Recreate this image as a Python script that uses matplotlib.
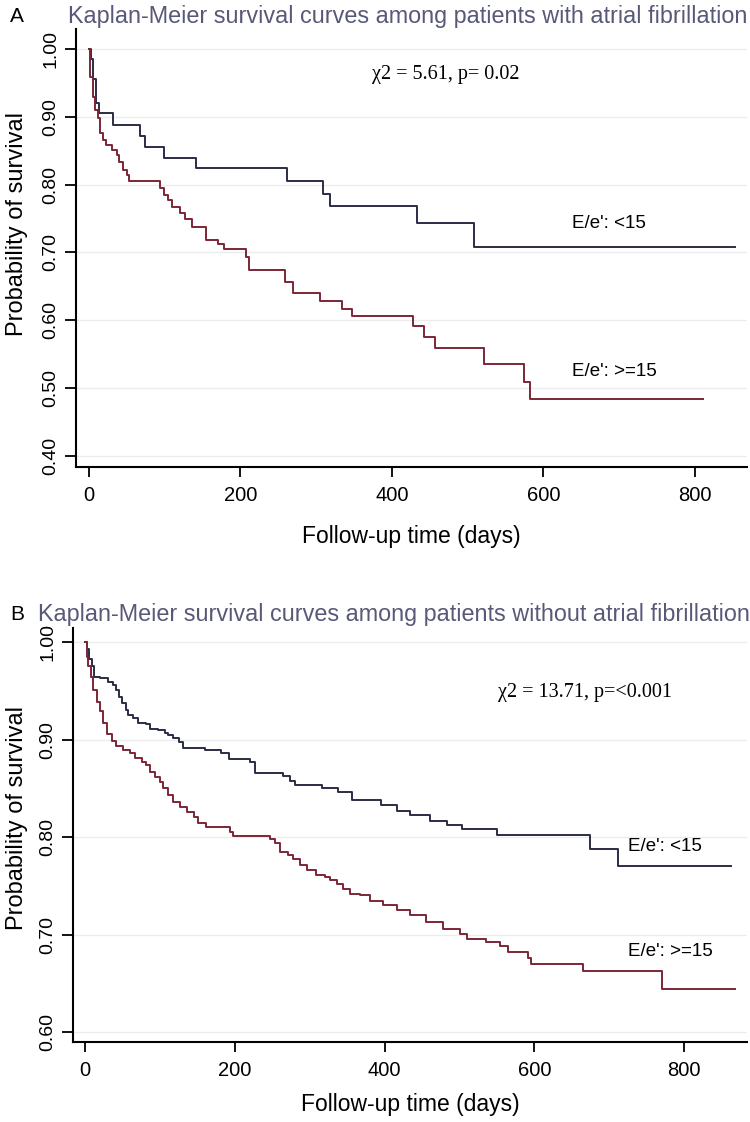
import matplotlib
matplotlib.use("Agg")
import matplotlib.pyplot as plt
from matplotlib import font_manager

# panel A: patients with atrial fibrillation
a_low_t = [0, 3, 6, 10, 13, 32, 67, 74, 99, 141, 262, 309, 319, 433, 509, 853]
a_low_s = [1.0, 0.985, 0.955, 0.92, 0.905, 0.888, 0.872, 0.855, 0.840, 0.824,
           0.805, 0.786, 0.769, 0.743, 0.708, 0.708]
a_high_t = [0, 1.3, 5.7, 8, 11.5, 14.5, 19, 23, 30, 36.6, 40, 44.5, 50, 53, 94,
            99, 105, 110, 120, 127, 136, 155, 171, 178, 208, 212, 259, 270, 305,
            334, 347, 428, 443, 457, 522, 574, 582, 811]
a_high_s = [1.0, 0.959, 0.929, 0.910, 0.898, 0.876, 0.866, 0.858, 0.851, 0.844,
            0.834, 0.822, 0.814, 0.805, 0.795, 0.785, 0.777, 0.767, 0.758, 0.750,
            0.737, 0.719, 0.712, 0.705, 0.694, 0.674, 0.657, 0.640, 0.628, 0.616,
            0.607, 0.592, 0.576, 0.559, 0.535, 0.509, 0.484, 0.484]

# panel B: patients without atrial fibrillation
b_low_t = [0, 3.1, 5.7, 8.9, 12.4, 20, 31, 38, 42, 46, 49, 55, 58, 64.5, 71, 82,
           87, 98, 107, 111, 118, 125, 131, 160, 182, 193, 220, 227, 265, 274,
           280, 317, 338, 357, 395, 416, 434, 461, 483, 503, 550, 675, 712, 863]
b_low_s = [1.0, 0.993, 0.983, 0.975, 0.964, 0.963, 0.959, 0.956, 0.951, 0.944,
           0.937, 0.930, 0.925, 0.922, 0.917, 0.916, 0.911, 0.910, 0.907, 0.905,
           0.902, 0.898, 0.891, 0.889, 0.886, 0.880, 0.877, 0.866, 0.863, 0.858,
           0.853, 0.850, 0.846, 0.838, 0.833, 0.827, 0.823, 0.817, 0.812, 0.808,
           0.802, 0.788, 0.770, 0.770]
b_high_t = [0, 2.3, 4.4, 7.6, 11, 15.5, 20, 24, 29, 35.6, 42, 51, 60, 67, 76, 82,
            87, 93, 100, 104, 111, 118, 127, 136, 145, 151, 162, 194, 198, 247,
            254, 260, 271, 278, 287, 296, 309, 320, 327, 336, 345, 354, 367, 381,
            398, 416, 434, 456, 478, 501, 510, 536, 554, 565, 592, 596, 665, 771,
            868]
b_high_s = [1.0, 0.985, 0.975, 0.964, 0.951, 0.939, 0.929, 0.917, 0.906, 0.899,
            0.893, 0.889, 0.886, 0.881, 0.877, 0.874, 0.867, 0.862, 0.857, 0.850,
            0.843, 0.836, 0.831, 0.826, 0.821, 0.814, 0.810, 0.805, 0.801, 0.798,
            0.794, 0.785, 0.782, 0.778, 0.771, 0.766, 0.761, 0.759, 0.756, 0.752,
            0.747, 0.742, 0.741, 0.735, 0.730, 0.725, 0.720, 0.713, 0.706, 0.701,
            0.696, 0.693, 0.688, 0.682, 0.676, 0.670, 0.663, 0.644, 0.644]

x_ticks = [0, 200, 400, 600, 800]
a_yticks = [0.4, 0.5, 0.6, 0.7, 0.8, 0.9, 1.0]
b_yticks = [0.6, 0.7, 0.8, 0.9, 1.0]

BLUE = "#2b2d45"
RED = "#7d2636"
TITLE_C = "#585878"
SANS = "Liberation Sans"
names = {f.name for f in font_manager.fontManager.ttflist}
NARROW = "Liberation Sans Narrow" if "Liberation Sans Narrow" in names else SANS


def draw_panel(ax, low, high, yticks, xlim, ylim, chi_text, chi_pos, lab_pos,
               ylab_xy, xlabpad):
    ax.step(low[0], low[1], where="post", color=BLUE, lw=1.4)
    ax.step(high[0], high[1], where="post", color=RED, lw=1.4)
    ax.set_xlim(*xlim)
    ax.set_ylim(*ylim)
    for y in yticks:
        ax.axhline(y, color="#ececec", lw=1.0, zorder=0)
    ax.spines["top"].set_visible(False)
    ax.spines["right"].set_visible(False)
    ax.spines["left"].set_linewidth(1.5)
    ax.spines["bottom"].set_linewidth(1.5)
    ax.set_xticks(x_ticks)
    ax.set_xticklabels([str(t) for t in x_ticks], family=NARROW, fontsize=14.5)
    ax.set_yticks(yticks)
    ax.set_yticklabels(["%.2f" % y for y in yticks], rotation=90, va="center",
                       family=SANS, fontsize=14)
    ax.tick_params(axis="x", length=7, width=1.3, pad=7)
    ax.tick_params(axis="y", length=8, width=1.3, pad=4)
    ax.set_xlabel("Follow-up time (days)", family=SANS, fontsize=16.5,
                  labelpad=xlabpad)
    ax.set_ylabel("Probability of survival", family=SANS, fontsize=17)
    ax.yaxis.set_label_coords(*ylab_xy)
    ax.text(chi_pos[0], chi_pos[1], chi_text, family="Liberation Serif",
            fontsize=14.5, ha="left", va="center")
    ax.text(lab_pos[0], lab_pos[1], "E/e': <15", family=SANS, fontsize=13.5,
            ha="left", va="center")
    ax.text(lab_pos[0], lab_pos[2], "E/e': >=15", family=SANS, fontsize=13.5,
            ha="left", va="center")


fig = plt.figure(figsize=(7.5, 11.22), dpi=100)

ax_a = fig.add_axes([0.1013, 0.5838, 0.8947, 0.3904])
draw_panel(ax_a, (a_low_t, a_low_s), (a_high_t, a_high_s), a_yticks,
           (-17, 869), (0.3838, 1.0295), "\u03c72 = 5.61, p= 0.02",
           (374, 0.962), (638, 0.743, 0.524), (-0.072, 0.555), 14)

ax_b = fig.add_axes([0.0973, 0.0713, 0.8987, 0.3690])
draw_panel(ax_b, (b_low_t, b_low_s), (b_high_t, b_high_s), b_yticks,
           (-16, 884), (0.59, 1.0144), "\u03c72 = 13.71, p=<0.001",
           (551, 0.948), (725, 0.790, 0.683), (-0.067, 0.54), 9)

fig.text(17 / 750, 1 - 17 / 1122, "A", family=SANS, fontsize=15, ha="center", va="center")
fig.text(68 / 750, 1 - 17 / 1122,
         "Kaplan-Meier survival curves among patients with atrial fibrillation",
         family=SANS, fontsize=16.8, color=TITLE_C, ha="left", va="center")
fig.text(17 / 750, 1 - 615 / 1122, "B", family=SANS, fontsize=15, ha="center", va="center")
fig.text(38 / 750, 1 - 615 / 1122,
         "Kaplan-Meier survival curves among patients without atrial fibrillation",
         family=SANS, fontsize=16.8, color=TITLE_C, ha="left", va="center")

fig.savefig("out.png", dpi=100)
